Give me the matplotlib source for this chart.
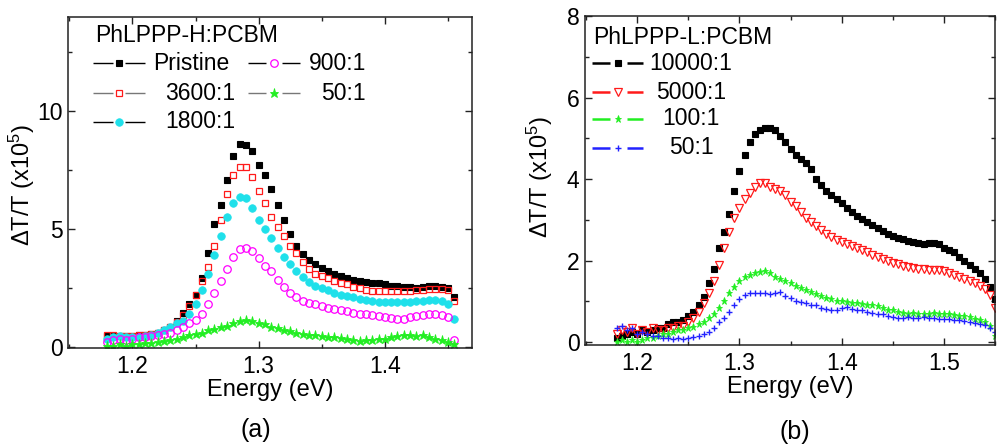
import numpy as np
import matplotlib
matplotlib.use("Agg")
import matplotlib.pyplot as plt
from matplotlib.ticker import MultipleLocator

plt.rcParams['font.family'] = ['Liberation Sans', 'DejaVu Sans']
plt.rcParams['mathtext.fontset'] = 'custom'
plt.rcParams['mathtext.rm'] = 'Liberation Sans'
plt.rcParams['mathtext.it'] = 'Liberation Sans:italic'

# ---------------- panel (a): PhLPPP-H:PCBM ----------------
energy_a = np.round(np.arange(1.180, 1.4551, 0.005), 3)

pristine = [0.45, 0.45, 0.45, 0.45, 0.45, 0.5, 0.5, 0.55, 0.6, 0.7,
            0.85, 1.1, 1.45, 1.8, 2.2, 2.9, 4.0, 5.2, 6.0, 7.1,
            8.1, 8.6, 8.55, 8.3, 7.7, 7.3, 6.7, 6.0, 5.4, 4.8,
            4.3, 3.95, 3.7, 3.5, 3.35, 3.2, 3.1, 3.0, 2.9, 2.85,
            2.8, 2.75, 2.7, 2.7, 2.65, 2.6, 2.6, 2.55, 2.55, 2.5,
            2.55, 2.6, 2.6, 2.55, 2.5, 2.1]
r3600 = [0.5, 0.5, 0.45, 0.45, 0.45, 0.5, 0.5, 0.55, 0.6, 0.7,
         0.85, 1.05, 1.35, 1.75, 2.2, 2.8, 3.4, 4.3, 5.4, 6.5,
         7.3, 7.65, 7.65, 7.2, 6.6, 6.1, 5.5, 5.1, 4.7, 4.3,
         4.0, 3.6, 3.3, 3.1, 3.0, 2.9, 2.8, 2.7, 2.65, 2.55,
         2.5, 2.4, 2.35, 2.35, 2.35, 2.35, 2.35, 2.35, 2.35, 2.4,
         2.4, 2.45, 2.45, 2.45, 2.4, 1.95]
r1800 = [0.35, 0.4, 0.45, 0.4, 0.4, 0.4, 0.45, 0.5, 0.6, 0.7,
         0.85, 1.0, 1.1, 1.4, 1.8, 2.4, 3.1, 3.9, 4.7, 5.5,
         6.1, 6.35, 6.3, 5.9, 5.4, 5.0, 4.6, 4.2, 3.8, 3.5,
         3.2, 2.95, 2.75, 2.6, 2.5, 2.4, 2.3, 2.2, 2.15, 2.1,
         2.05, 2.0, 1.95, 1.9, 1.9, 1.9, 1.9, 1.9, 1.9, 1.95,
         1.95, 2.0, 2.0, 1.95, 1.8, 1.2]
r900 = [0.2, 0.3, 0.35, 0.3, 0.35, 0.4, 0.4, 0.45, 0.5, 0.55,
        0.6, 0.7, 0.85, 1.0, 1.15, 1.4, 1.8, 2.3, 2.8, 3.3,
        3.8, 4.15, 4.2, 4.05, 3.75, 3.45, 3.2, 2.85, 2.55, 2.3,
        2.1, 1.95, 1.85, 1.8, 1.72, 1.65, 1.6, 1.55, 1.5, 1.45,
        1.4, 1.38, 1.35, 1.3, 1.25, 1.22, 1.2, 1.2, 1.25, 1.3,
        1.35, 1.4, 1.38, 1.35, 1.25, 0.3]
r50a = [0.05, 0.05, 0.1, 0.05, 0.1, 0.1, 0.15, 0.15, 0.2, 0.25,
        0.3, 0.35, 0.4, 0.5, 0.55, 0.6, 0.7, 0.75, 0.85, 0.9,
        1.0, 1.1, 1.15, 1.1, 1.0, 0.95, 0.85, 0.8, 0.7, 0.65,
        0.6, 0.55, 0.5, 0.5, 0.45, 0.42, 0.4, 0.38, 0.35, 0.3,
        0.25, 0.28, 0.3, 0.32, 0.35, 0.4, 0.45, 0.5, 0.5, 0.45,
        0.5, 0.42, 0.35, 0.3, 0.2, 0.1]

# ---------------- panel (b): PhLPPP-L:PCBM ----------------
energy_b = np.round(np.arange(1.180, 1.5501, 0.005), 3)

r10000 = [0.1, 0.15, 0.2, 0.25, 0.2, 0.3, 0.25, 0.3, 0.35, 0.35,
          0.45, 0.5, 0.5, 0.55, 0.65, 0.75, 0.9, 1.1, 1.45, 1.8,
          2.3, 2.7, 3.15, 3.7, 4.2, 4.6, 4.9, 5.1, 5.2, 5.25,
          5.25, 5.2, 5.05, 4.9, 4.75, 4.6, 4.5, 4.4, 4.25, 4.0,
          3.85, 3.7, 3.6, 3.5, 3.42, 3.3, 3.2, 3.1, 3.02, 2.95,
          2.88, 2.8, 2.72, 2.65, 2.6, 2.55, 2.52, 2.48, 2.45, 2.42,
          2.4, 2.42, 2.42, 2.4, 2.32, 2.25, 2.2, 2.1, 2.0, 1.9,
          1.8, 1.7, 1.55, 1.35, 1.05]
r5000 = [0.2, 0.3, 0.25, 0.35, 0.2, 0.3, 0.25, 0.35, 0.3, 0.3,
         0.35, 0.35, 0.4, 0.4, 0.5, 0.6, 0.75, 0.95, 1.2, 1.5,
         1.9, 2.3, 2.7, 3.05, 3.3, 3.5, 3.65, 3.8, 3.9, 3.9,
         3.8, 3.75, 3.7, 3.6, 3.45, 3.35, 3.2, 3.05, 2.95, 2.85,
         2.75, 2.65, 2.58, 2.5, 2.45, 2.4, 2.35, 2.3, 2.25, 2.2,
         2.15, 2.1, 2.05, 2.0, 1.95, 1.92, 1.88, 1.85, 1.82, 1.8,
         1.8, 1.78, 1.78, 1.78, 1.75, 1.7, 1.65, 1.6, 1.55, 1.5,
         1.45, 1.38, 1.3, 1.15, 0.85]
r100 = [0.0, 0.05, 0.0, 0.05, 0.0, 0.05, 0.1, 0.1, 0.15, 0.2,
        0.2, 0.25, 0.3, 0.3, 0.35, 0.38, 0.45, 0.5, 0.6, 0.7,
        0.85, 1.0, 1.2, 1.35, 1.5, 1.6, 1.65, 1.7, 1.72, 1.75,
        1.7, 1.6, 1.55, 1.5, 1.45, 1.38, 1.32, 1.28, 1.22, 1.18,
        1.12, 1.08, 1.05, 1.02, 1.0, 0.98, 0.96, 0.95, 0.93, 0.92,
        0.9, 0.88, 0.85, 0.8, 0.78, 0.75, 0.72, 0.7, 0.72, 0.7,
        0.68, 0.7, 0.72, 0.7, 0.68, 0.68, 0.66, 0.65, 0.65, 0.62,
        0.58, 0.55, 0.5, 0.4, 0.15]
r50b = [0.35, 0.4, 0.3, 0.35, 0.2, 0.25, 0.2, 0.15, 0.15, 0.1,
        0.1, 0.08, 0.1, 0.08, 0.1, 0.12, 0.15, 0.2, 0.25, 0.35,
        0.5, 0.6, 0.75, 0.9, 1.05, 1.15, 1.2, 1.2, 1.2, 1.2,
        1.18, 1.2, 1.22, 1.12, 1.08, 1.02, 0.98, 0.95, 0.92, 0.9,
        0.85, 0.82, 0.78, 0.8, 0.85, 0.86, 0.82, 0.8, 0.78, 0.75,
        0.72, 0.7, 0.68, 0.65, 0.62, 0.6, 0.6, 0.62, 0.6, 0.6,
        0.62, 0.6, 0.6, 0.58, 0.58, 0.56, 0.55, 0.55, 0.52, 0.5,
        0.48, 0.45, 0.42, 0.35, 0.25]

CYAN = '#1fe0ea'
MAGENTA = '#ff00ff'
GREEN = '#22ee22'
BLUE = '#2222ff'
RED = '#ff1a1a'

FS_TICK = 16.5
FS_LABEL = 17
FS_LEG = 16.5

fig = plt.figure(figsize=(9.97, 4.45), dpi=100)
ax1 = fig.add_axes([0.0682, 0.218, 0.4052, 0.7438])
ax2 = fig.add_axes([0.5868, 0.2247, 0.4113, 0.7393])

series_a = [
    (pristine, dict(marker='s', color='black', mfc='black', ms=5.0, mew=0.8)),
    (r3600, dict(marker='s', color=RED, mfc='none', ms=5.0, mew=0.9)),
    (r1800, dict(marker='o', color=CYAN, mfc=CYAN, ms=5.4, mew=0.6)),
    (r900, dict(marker='o', color=MAGENTA, mfc='none', ms=5.4, mew=0.9)),
    (r50a, dict(marker='*', color=GREEN, mfc=GREEN, ms=6.5, mew=0.6)),
]
for vals, st in series_a:
    ax1.plot(energy_a, vals, linestyle='none', **st)

series_b = [
    (r10000, dict(marker='s', color='black', mfc='black', ms=5.0, mew=0.8)),
    (r5000, dict(marker='v', color=RED, mfc='none', ms=5.6, mew=0.9)),
    (r100, dict(marker='*', color=GREEN, mfc=GREEN, ms=5.2, mew=0.6)),
    (r50b, dict(marker='+', color=BLUE, ms=5.0, mew=1.0)),
]
for vals, st in series_b:
    ax2.plot(energy_b, vals, linestyle='none', **st)

for ax in (ax1, ax2):
    for sp in ax.spines.values():
        sp.set_color('#222222')
        sp.set_linewidth(1.1)
    ax.tick_params(which='both', direction='in', top=True, right=True,
                   labelsize=FS_TICK, colors='#222222', labelcolor='black')
    ax.tick_params(which='major', length=5, width=1.0)
    ax.tick_params(which='minor', length=3, width=1.0)
    ax.tick_params(axis='x', pad=5)
    ax.tick_params(axis='y', pad=4)
    ax.xaxis.set_major_locator(MultipleLocator(0.1))
    ax.xaxis.set_minor_locator(MultipleLocator(0.05))
    ax.set_xlabel('Energy (eV)', fontsize=FS_LABEL, labelpad=1)
    ax.set_ylabel('ΔT/T (x10$^{\\mathrm{5}}$)', fontsize=FS_LABEL)

ax1.yaxis.set_label_coords(-0.0767, 0.492)
ax2.yaxis.set_label_coords(-0.0732, 0.51)

ax1.set_xlim(1.149, 1.469)
ax1.set_ylim(-0.05, 14)
ax1.yaxis.set_major_locator(MultipleLocator(5))
ax1.yaxis.set_minor_locator(MultipleLocator(2.5))

ax2.set_xlim(1.149, 1.550)
ax2.set_ylim(-0.07, 8)
ax2.yaxis.set_major_locator(MultipleLocator(2))
ax2.yaxis.set_minor_locator(MultipleLocator(1))


def key(ax, seg1, seg2, xm, y, lc, lw, mstyle):
    for seg in (seg1, seg2):
        ax.plot(seg, [y, y], color=lc, lw=lw, transform=ax.transAxes,
                clip_on=False, solid_capstyle='butt')
    ax.plot([xm], [y], transform=ax.transAxes, linestyle='none',
            clip_on=False, **mstyle)


# legend of panel (a)
ax1.text(0.067, 0.943, 'PhLPPP-H:PCBM', transform=ax1.transAxes,
         fontsize=FS_LEG, va='center', ha='left')
rows_a = [0.861, 0.770, 0.683]
col1 = [('Pristine', 'black', series_a[0][1], 0.210),
        ('3600:1', '#777777', series_a[1][1], 0.240),
        ('1800:1', 'black', series_a[2][1], 0.240)]
for (lab, lc, st, tx), y in zip(col1, rows_a):
    key(ax1, [0.062, 0.111], [0.141, 0.191], 0.126, y, lc, 1.0, st)
    ax1.text(tx, y, lab, transform=ax1.transAxes, fontsize=FS_LEG,
             va='center', ha='left')
col2 = [('900:1', 'black', series_a[3][1]),
        ('50:1', '#777777', series_a[4][1])]
for (lab, lc, st), y in zip(col2, rows_a[:2]):
    key(ax1, [0.446, 0.490], [0.530, 0.574], 0.510, y, lc, 1.0, st)
    ax1.text(0.738, y, lab, transform=ax1.transAxes, fontsize=FS_LEG,
             va='center', ha='right')

# legend of panel (b)
ax2.text(0.0195, 0.936, 'PhLPPP-L:PCBM', transform=ax2.transAxes,
         fontsize=FS_LEG, va='center', ha='left')
rows_b = [0.857, 0.769, 0.687, 0.600]
labels_b = ['10000:1', '5000:1', '100:1', '50:1']
line_cols_b = ['black', RED, GREEN, BLUE]
for lab, lc, (vals, st), y in zip(labels_b, line_cols_b, series_b, rows_b):
    key(ax2, [0.017, 0.061], [0.102, 0.141], 0.081, y, lc, 1.8, st)
    ax2.text(0.2585, y, lab, transform=ax2.transAxes, fontsize=FS_LEG,
             va='center', ha='center')

fig.text(0.257, 0.034, '(a)', fontsize=18, ha='center', va='center')
fig.text(0.797, 0.030, '(b)', fontsize=18, ha='center', va='center')

fig.savefig('out.png', dpi=100)
